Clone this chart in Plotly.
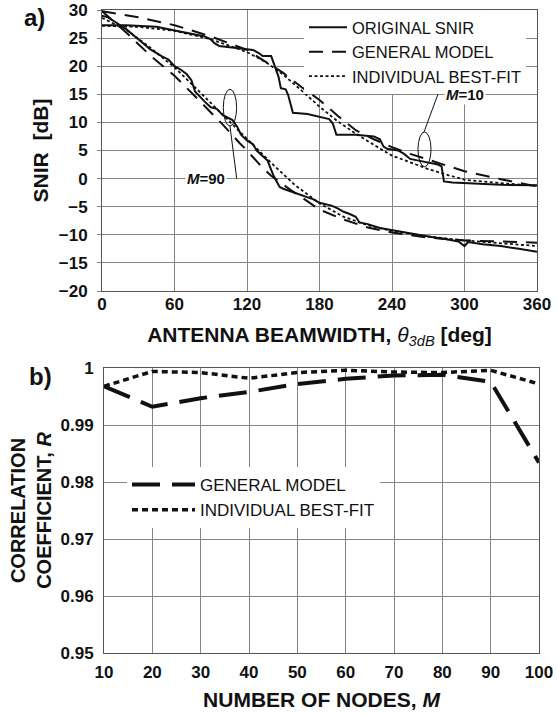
import plotly.graph_objects as go

# ---------------- Panel a) data ----------------
m10_orig_x = [0, 20, 45, 60, 75, 85, 90, 93, 97, 110, 120, 125, 130, 133, 140, 143, 146, 148, 152, 154, 158,
              170, 180, 188, 191, 194, 210, 225, 230, 233, 236, 245, 250, 255, 262, 270, 278, 281, 283, 290,
              300, 330, 360]
m10_orig_y = [27.3, 27.3, 27.0, 26.4, 25.7, 25.3, 24.8, 24.1, 23.6, 23.3, 23.1, 22.9, 22.3, 21.8, 21.8, 19.9,
              18.2, 16.1, 15.9, 14.9, 11.7, 11.5, 11.0, 10.6, 9.8, 7.8, 7.8, 7.5, 7.0, 5.7, 5.3, 5.0, 4.4, 3.5,
              3.2, 2.8, 2.5, 2.2, -0.5, -0.7, -0.8, -1.1, -1.2]

m10_gen_x = [0, 30, 60, 90, 120, 150, 165, 180, 195, 210, 225, 240, 255, 270, 285, 300, 330, 360]
m10_gen_y = [29.8, 28.7, 27.3, 25.3, 22.9, 18.8, 16.3, 14.0, 11.2, 8.6, 7.0, 5.6, 4.4, 3.4, 2.3, 1.3, -0.1, -1.4]

m10_fit_x = [0, 30, 60, 90, 110, 120, 135, 150, 165, 180, 195, 210, 225, 240, 255, 270, 285, 300, 330, 360]
m10_fit_y = [27.2, 27.0, 26.3, 24.8, 23.3, 22.5, 20.8, 18.5, 15.7, 12.8, 10.2, 8.0, 6.0, 4.1, 2.9, 1.7, 0.7,
             -0.2, -0.8, -1.3]

m90_orig_x = [0, 5, 10, 20, 30, 40, 50, 55, 60, 65, 70, 74, 77, 80, 85, 90, 95, 100, 105, 108, 112, 115, 120,
              125, 128, 133, 137, 142, 147, 150, 160, 170, 175, 180, 190, 195, 200, 205, 210, 213, 220, 230,
              240, 255, 270, 285, 295, 300, 303, 315, 330, 345, 360]
m90_orig_y = [29.0, 28.7, 28.0, 26.6, 24.8, 23.0, 21.7, 21.2, 20.0, 19.4, 18.6, 17.5, 15.5, 14.8, 13.7, 12.7,
              12.4, 11.3, 10.8, 10.4, 9.2, 7.8, 6.8, 6.1, 5.0, 4.0, 3.2, 0.5, -1.5, -1.8, -2.6, -3.3, -3.7,
              -4.3, -4.8, -5.3, -5.9, -6.3, -6.8, -7.8, -8.1, -8.8, -9.2, -9.8, -10.3, -10.8, -11.2, -12.0,
              -11.3, -11.7, -12.0, -12.5, -13.0]

m90_gen_x = [0, 20, 40, 60, 80, 100, 114, 120, 133, 140, 156, 180, 200, 220, 240, 270, 300, 330, 360]
m90_gen_y = [29.8, 26.0, 21.9, 18.3, 14.0, 9.6, 6.3, 5.0, 1.9, 0.5, -2.0, -5.5, -7.3, -8.7, -9.6, -10.5, -11.0,
             -11.2, -11.4]

m90_fit_x = [0, 20, 40, 60, 80, 100, 120, 140, 160, 180, 200, 220, 240, 270, 300, 330, 360]
m90_fit_y = [28.6, 26.5, 23.3, 19.8, 15.6, 11.3, 7.0, 2.8, -1.2, -4.4, -6.8, -8.3, -9.3, -10.3, -11.0, -11.5,
             -12.0]

a_xticks = [0, 60, 120, 180, 240, 300, 360]
a_yticks = [-20, -15, -10, -5, 0, 5, 10, 15, 20, 25, 30]

# ---------------- Panel b) data ----------------
nodes_M = [10, 20, 30, 40, 50, 60, 70, 80, 90, 100]
r_general = [0.9968, 0.9932, 0.9947, 0.9958, 0.9972, 0.9981, 0.9987, 0.9988, 0.9976, 0.9834]
r_bestfit = [0.9968, 0.9994, 0.9992, 0.9982, 0.9992, 0.9996, 0.9993, 0.9992, 0.9996, 0.9972]
b_yticks = [0.95, 0.96, 0.97, 0.98, 0.99, 1.0]
b_yticklabels = ["0.95", "0.96", "0.97", "0.98", "0.99", "1"]

FONT = "Liberation Sans, Arial, sans-serif"
INK = "#111111"
GRID = "#858585"
W, H = 557, 715

fig = go.Figure()

solid = dict(color=INK, width=2)
dash_a = dict(color=INK, width=2, dash="14px,9px")
dot_a = dict(color=INK, width=1.8, dash="3px,2.5px")

fig.add_trace(go.Scatter(x=m10_orig_x, y=m10_orig_y, mode="lines", line=solid, name="ORIGINAL SNIR",
                         legend="legend", legendgroup="o", xaxis="x", yaxis="y"))
fig.add_trace(go.Scatter(x=m10_gen_x, y=m10_gen_y, mode="lines", line=dash_a, name="GENERAL MODEL",
                         legend="legend", legendgroup="g", xaxis="x", yaxis="y"))
fig.add_trace(go.Scatter(x=m10_fit_x, y=m10_fit_y, mode="lines", line=dot_a, name="INDIVIDUAL BEST-FIT",
                         legend="legend", legendgroup="f", xaxis="x", yaxis="y"))
fig.add_trace(go.Scatter(x=m90_orig_x, y=m90_orig_y, mode="lines", line=solid, showlegend=False,
                         legendgroup="o", xaxis="x", yaxis="y"))
fig.add_trace(go.Scatter(x=m90_gen_x, y=m90_gen_y, mode="lines", line=dash_a, showlegend=False,
                         legendgroup="g", xaxis="x", yaxis="y"))
fig.add_trace(go.Scatter(x=m90_fit_x, y=m90_fit_y, mode="lines", line=dot_a, showlegend=False,
                         legendgroup="f", xaxis="x", yaxis="y"))

fig.add_trace(go.Scatter(x=nodes_M, y=r_general, mode="lines", name="GENERAL MODEL",
                         line=dict(color=INK, width=4, dash="28px,12px"),
                         legend="legend2", legendgroup="g2", xaxis="x2", yaxis="y2"))
fig.add_trace(go.Scatter(x=nodes_M, y=r_bestfit, mode="lines", name="INDIVIDUAL BEST-FIT",
                         line=dict(color=INK, width=3.5, dash="6px,4px"),
                         legend="legend2", legendgroup="f2", xaxis="x2", yaxis="y2"))

def px_x(p):
    return p / W

def px_y(p):
    return 1 - p / H

tickfont = dict(family=FONT, size=17, color=INK, weight="bold")
titlefont = dict(family=FONT, size=21, color=INK)
common = dict(showgrid=True, gridcolor=GRID, gridwidth=1, showline=True, linecolor="#555555",
              linewidth=1, mirror=True, zeroline=False, tickfont=tickfont, automargin=False)

fig.update_layout(
    template="none",
    width=W, height=H,
    margin=dict(l=0, r=0, t=0, b=0, autoexpand=False),
    paper_bgcolor="white", plot_bgcolor="white",
    font=dict(family=FONT, color=INK),
    xaxis=dict(domain=[px_x(102), px_x(537)], range=[0, 360], tickvals=a_xticks, anchor="y",
               ticks="", ticklabelstandoff=-2,
               title=dict(text="<b>ANTENNA BEAMWIDTH, </b><i>θ<sub>3dB</sub></i><b> [deg]</b>",
                          font=titlefont, standoff=13), **common),
    yaxis=dict(domain=[px_y(291), px_y(10)], range=[-20, 30], tickvals=a_yticks, anchor="x",
               ticks="outside", ticklen=4, tickcolor=GRID, ticklabelstandoff=6,
               title=dict(text="<b>SNIR&nbsp; [dB]</b>", font=titlefont, standoff=4), **common),
    xaxis2=dict(domain=[px_x(104), px_x(539)], range=[10, 100], dtick=10, tick0=10, anchor="y2",
                ticks="", ticklabelstandoff=4,
                title=dict(text="<b>NUMBER OF NODES, <i>M</i></b>", font=titlefont, standoff=10), **common),
    yaxis2=dict(domain=[px_y(653), px_y(368)], range=[0.95, 1.0], tickvals=b_yticks,
                ticktext=b_yticklabels, anchor="x2", ticks="", ticklabelstandoff=6,
                title=dict(text="<b>CORRELATION<br>COEFFICIENT, <i>R</i></b>",
                           font=dict(family=FONT, size=20, color=INK), standoff=3),
                **common),
    legend=dict(x=px_x(304), y=px_y(10), xanchor="left", yanchor="top", bgcolor="white", borderwidth=0,
                font=dict(family=FONT, size=16.5, color=INK), traceorder="grouped", tracegroupgap=0,
                itemwidth=38),
    legend2=dict(x=px_x(127), y=px_y(467), xanchor="left", yanchor="top", bgcolor="white", borderwidth=0,
                 font=dict(family=FONT, size=17, color=INK), traceorder="grouped", tracegroupgap=0,
                 itemwidth=63),
)

# ellipses and leader lines (annotations)
fig.add_shape(type="circle", xref="x", yref="y", x0=261.5, x1=272.3, y0=2.1, y1=8.3,
              line=dict(color=INK, width=1))
fig.add_shape(type="line", xref="x", yref="y", x0=278, y0=15, x1=266.5, y1=8.3,
              line=dict(color=INK, width=1))
fig.add_shape(type="circle", xref="x", yref="y", x0=100.4, x1=111.4, y0=9.35, y1=15.9,
              line=dict(color=INK, width=1))
fig.add_shape(type="line", xref="x", yref="y", x0=105.9, y0=9.35, x1=111.5, y1=0,
              line=dict(color=INK, width=1))

fig.add_annotation(x=300, y=15, xref="x", yref="y", text="<b><i>M</i>=10</b>", showarrow=False,
                   bgcolor="white", font=dict(family=FONT, size=15, color=INK), borderpad=1)
fig.add_annotation(x=86, y=0, xref="x", yref="y", text="<b><i>M</i>=90</b>", showarrow=False,
                   bgcolor="white", font=dict(family=FONT, size=15, color=INK), borderpad=1)

fig.add_annotation(x=px_x(34), y=px_y(17), xref="paper", yref="paper", text="<b>a)</b>", showarrow=False,
                   xanchor="center", yanchor="middle", font=dict(family=FONT, size=24, color=INK))
fig.add_annotation(x=px_x(40), y=px_y(377), xref="paper", yref="paper", text="<b>b)</b>", showarrow=False,
                   xanchor="center", yanchor="middle", font=dict(family=FONT, size=24, color=INK))

fig.write_html("out.html", config={"displayModeBar": False},
               post_script="document.body.style.margin='0';")
